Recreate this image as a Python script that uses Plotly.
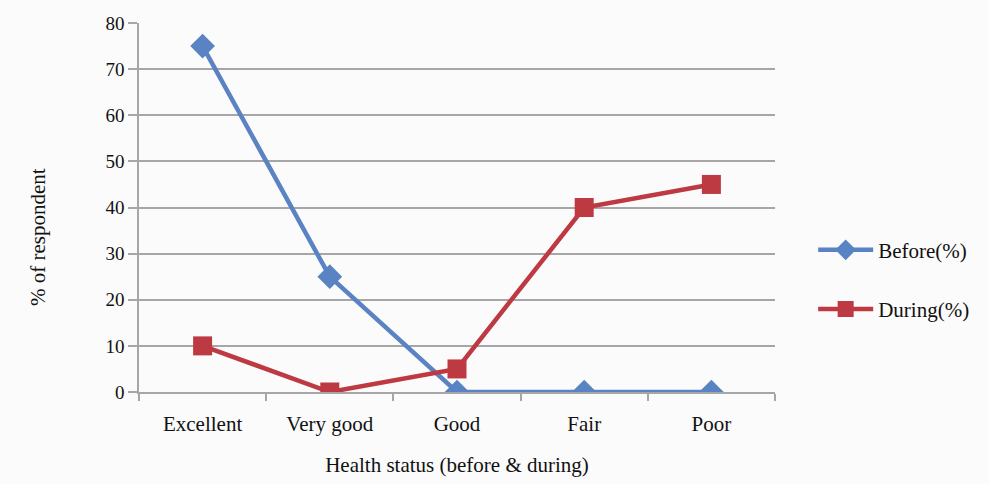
import plotly.graph_objects as go

categories = ["Excellent", "Very good", "Good", "Fair", "Poor"]
before_pct = [75, 25, 0, 0, 0]
during_pct = [10, 0, 5, 40, 45]

FONT = "Liberation Serif"
BLUE = "#5A83C3"
RED = "#BE3A43"
GRID = "#A6A6A6"

fig = go.Figure()
fig.add_trace(go.Scatter(
    x=categories, y=before_pct, name="Before(%)", mode="lines+markers",
    legendgroup="a",
    line=dict(color=BLUE, width=4.5),
    marker=dict(symbol="diamond", size=19, color=BLUE),
))
fig.add_trace(go.Scatter(
    x=categories, y=during_pct, name="During(%)", mode="lines+markers",
    legendgroup="b",
    line=dict(color=RED, width=4.5),
    marker=dict(symbol="square", size=19, color=RED),
))

fig.update_layout(
    width=989, height=484,
    margin=dict(l=139, r=214, t=23, b=92),
    paper_bgcolor="#fbfbfb",
    plot_bgcolor="#fbfbfb",
    font=dict(family=FONT, size=21, color="#111111"),
    showlegend=True,
    legend=dict(
        x=1.06, xanchor="left", y=0.44, yanchor="top",
        font=dict(family=FONT, size=21, color="#111111"),
        tracegroupgap=29,
        itemwidth=55,
        bgcolor="rgba(0,0,0,0)",
    ),
    xaxis=dict(
        type="category",
        range=[-0.5, 4.5],
        tickson="boundaries",
        ticks="outside", ticklen=7, tickcolor=GRID, tickwidth=1.5,
        showline=True, linecolor=GRID, linewidth=1.5,
        showgrid=False, zeroline=False,
        tickfont=dict(family=FONT, size=21),
        ticklabelstandoff=12,
        title=dict(text="Health status (before & during)",
                   font=dict(family=FONT, size=21), standoff=22),
    ),
    yaxis=dict(
        range=[0, 80], dtick=10,
        ticks="outside", ticklen=9, tickcolor=GRID, tickwidth=1.5,
        showline=True, linecolor=GRID, linewidth=1.5,
        showgrid=True, gridcolor=GRID, gridwidth=1.5,
        zeroline=False,
        tickfont=dict(family=FONT, size=19),
    ),
    annotations=[dict(
        text="% of respondent", textangle=-90,
        xref="paper", yref="paper", x=0, y=0.42,
        xanchor="center", yanchor="middle", xshift=-101,
        showarrow=False, font=dict(family=FONT, size=21, color="#111111"),
    )],
)

fig.write_html("out.html")
